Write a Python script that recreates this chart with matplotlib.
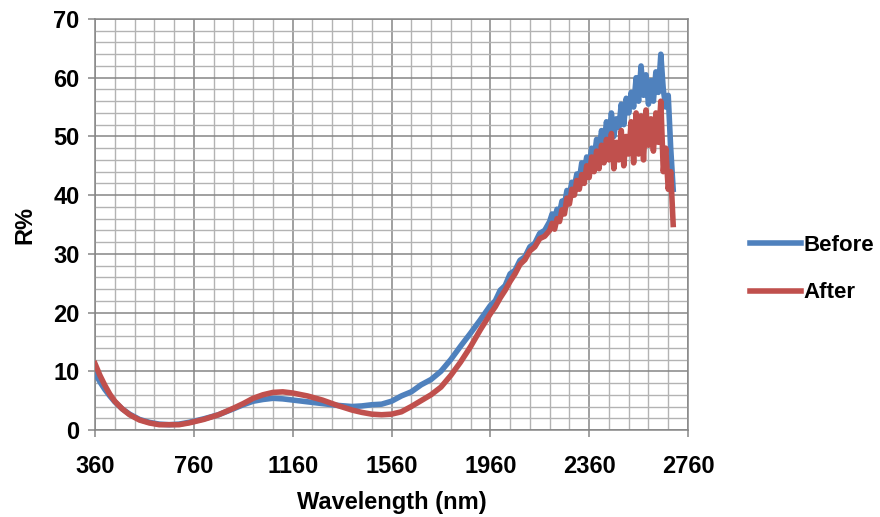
import matplotlib
matplotlib.use("Agg")
import matplotlib.pyplot as plt
import numpy as np
from matplotlib.ticker import FixedLocator

# wavelength (nm) and reflectance (%)
before_wl = [360, 380, 400, 420, 440, 470, 500, 540, 580, 620, 660, 700, 740, 800, 860,
             920, 960, 1000, 1040, 1080, 1120, 1160, 1220, 1280, 1340, 1400, 1440, 1480,
             1520, 1560, 1600, 1640, 1680, 1720, 1760, 1800, 1840, 1880, 1920, 1960,
             1980, 2000, 2020, 2040, 2060, 2080, 2100, 2120, 2140, 2160, 2180,
             2200, 2210, 2220, 2230, 2240, 2250, 2260, 2270, 2280, 2290, 2300, 2310,
             2320, 2330, 2340, 2350, 2360, 2370, 2380, 2390, 2400, 2410, 2420, 2430,
             2440, 2450, 2460, 2470, 2480, 2490, 2500, 2510, 2520, 2530, 2540, 2550,
             2560, 2570, 2580, 2590, 2600, 2610, 2620, 2630, 2640, 2650, 2660, 2670,
             2680, 2690, 2700]
before_r = [9.7, 8.2, 6.9, 5.8, 4.8, 3.6, 2.7, 1.8, 1.3, 1.0, 0.9, 1.0, 1.3, 1.9, 2.6,
            3.6, 4.3, 4.9, 5.2, 5.4, 5.3, 5.1, 4.8, 4.5, 4.2, 4.0, 4.1, 4.3,
            4.4, 4.9, 5.8, 6.5, 7.7, 8.6, 10.0, 12.0, 14.3, 16.5, 18.8, 21.2,
            22.0, 23.8, 24.6, 26.6, 27.2, 28.9, 29.5, 31.2, 31.8, 33.5, 34.0,
            35.5, 36.8, 36.0, 37.6, 37.0, 39.0, 38.4, 40.8, 40.0, 42.2, 41.4, 43.6,
            42.6, 45.5, 44.0, 46.5, 45.0, 48.0, 46.2, 49.5, 47.5, 51.0, 48.5, 52.5,
            49.5, 54.0, 50.0, 53.0, 51.5, 55.5, 52.0, 56.5, 54.0, 57.5, 55.0, 60.0,
            56.0, 62.0, 57.0, 60.5, 55.5, 59.5, 56.0, 61.0, 57.5, 64.0, 58.0, 55.0,
            57.0, 48.0, 41.0]

after_wl = before_wl
after_r = [11.3, 9.3, 7.6, 6.1, 4.9, 3.6, 2.6, 1.7, 1.2, 0.9, 0.9, 0.9, 1.2, 1.8, 2.6,
           3.7, 4.5, 5.4, 6.0, 6.4, 6.5, 6.3, 5.8, 5.1, 4.2, 3.4, 3.0, 2.7,
           2.6, 2.7, 3.1, 4.0, 5.0, 6.0, 7.3, 9.3, 11.6, 14.2, 17.1, 19.8,
           21.0, 22.5, 23.8, 25.3, 26.6, 28.2, 29.0, 30.5, 31.2, 32.6, 33.0,
           34.0, 35.2, 34.2, 36.0, 35.5, 37.5, 36.8, 39.5, 38.5, 41.0, 40.0, 42.5,
           41.0, 43.5, 42.0, 45.0, 43.0, 46.5, 44.0, 47.5, 44.5, 48.5, 45.5, 49.5,
           46.0, 50.5, 44.5, 49.0, 46.0, 51.0, 45.0, 50.0, 47.0, 52.5, 45.5, 54.0,
           47.0, 53.5, 46.0, 54.5, 48.5, 53.0, 47.5, 54.0, 49.0, 56.0, 44.0, 48.0,
           41.0, 44.0, 35.0]

series_names = ["Before", "After"]
series_colors = ["#4F81BD", "#C0504D"]
x_ticks = [360, 760, 1160, 1560, 1960, 2360, 2760]

plt.rcParams["font.family"] = ["Liberation Sans", "DejaVu Sans"]
plt.rcParams["font.weight"] = "bold"

fig = plt.figure(figsize=(8.8, 5.17), dpi=100)
ax = fig.add_axes([95 / 880, 87 / 517, 593 / 880, 411 / 517])

ax.plot(before_wl, before_r, color=series_colors[0], lw=4.0, label=series_names[0],
        solid_joinstyle="round", zorder=3)
ax.plot(after_wl, after_r, color=series_colors[1], lw=4.0, label=series_names[1],
        solid_joinstyle="round", zorder=4)

ax.set_xlim(x_ticks[0], x_ticks[-1])
ax.set_ylim(0, 70)
ax.xaxis.set_major_locator(FixedLocator(x_ticks))
ax.xaxis.set_minor_locator(FixedLocator(np.arange(x_ticks[0], x_ticks[-1] + 1, 80)))
ax.yaxis.set_major_locator(FixedLocator(np.arange(0, 71, 10)))
ax.yaxis.set_minor_locator(FixedLocator(np.arange(0, 71, 2)))

ax.grid(which="minor", color="#b3b3b3", lw=1.0, zorder=0)
ax.grid(which="major", color="#868686", lw=1.1, zorder=1)
ax.set_axisbelow(True)

for s in ax.spines.values():
    s.set_color("#868686")
    s.set_linewidth(1.1)

ax.tick_params(which="major", direction="out", length=5, width=1.1, color="#868686",
               labelsize=17)
ax.tick_params(axis="x", pad=13)
ax.tick_params(axis="y", pad=6)
ax.tick_params(which="minor", length=0)

ax.set_xlabel("Wavelength (nm)", fontsize=17, fontweight="bold", labelpad=9)
ax.set_ylabel("R%", fontsize=17, fontweight="bold", labelpad=12)

fig.legend(loc="center left", bbox_to_anchor=(750 / 880, 1 - 269 / 517), frameon=False,
           fontsize=16, handlelength=2.3, handletextpad=0.1, labelspacing=1.2,
           borderaxespad=0, borderpad=0)

fig.savefig("out.png", dpi=100)
